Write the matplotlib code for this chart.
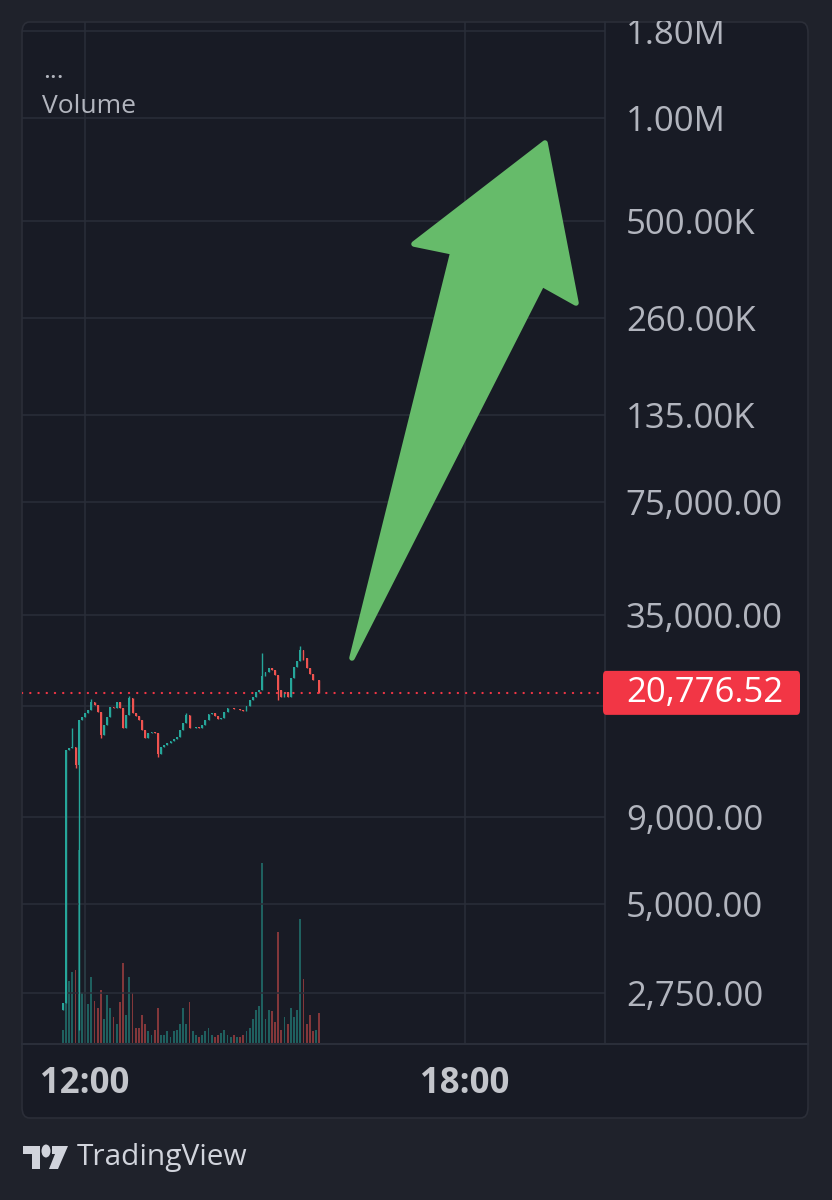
import numpy as np
import matplotlib
matplotlib.use('Agg')
from matplotlib import pyplot as plt
from matplotlib.patches import FancyBboxPatch, Polygon, Rectangle, Circle
from matplotlib.lines import Line2D
from matplotlib.ticker import FixedLocator, NullLocator, FuncFormatter

# 3 minute candles, the first one at 11:39
start_hour = 11 + 39 / 60
step_hour = 3 / 60

open_first = 2450
closes = [2570, 14140, 14330, 14430, 12780, 17300, 17660, 18140, 18510, 19540,
          19150, 18260, 15640, 16730, 17660, 18890, 18760, 19540, 18760, 16400,
          17890, 20080, 18140, 17770, 17300, 16180, 15330, 15850, 15960, 15850,
          13760, 14430, 14620, 14820, 15020, 15230, 15430, 16180, 16960, 17890,
          16400, 16400, 16510, 16400, 16730, 17300, 18020, 18140, 17770, 17420,
          17540, 18260, 18760, 18760, 18640, 18640, 18510, 18390, 19020, 19810,
          20210, 20900, 21190, 23280, 23920, 24570, 24240, 23440, 21190, 20210,
          20900, 20210, 22970, 24740, 25760, 27750, 26290, 24570, 23590, 22660,
          22660, 20776.52]
spike_highs = {3: 16400, 9: 19900, 21: 20400, 39: 18100, 63: 27190, 75: 28500}
spike_lows = {4: 12500, 5: 2140, 12: 15300, 30: 13490, 68: 19810, 76: 25900}

volumes = [8, 110, 35, 40, 41, 107, 28, 52, 22, 37,
           24, 20, 30, 14, 27, 20, 15, 11, 23, 45,
           16, 37, 28, 9, 9, 16, 11, 7, 5, 8,
           20, 5, 5, 7, 4, 7, 8, 11, 20, 11,
           23, 7, 5, 4, 5, 7, 9, 5, 4, 5,
           6, 8, 5, 4, 5, 4, 4, 5, 7, 9,
           14, 19, 21, 100, 14, 19, 18, 12, 62, 8,
           15, 11, 20, 15, 19, 69, 36, 11, 16, 7,
           8, 17]

price_ticks = [2750, 5000, 9000, 19000, 35000, 75000, 135000, 260000,
               500000, 1000000, 1800000]
hidden_tick = 19000  # sits under the last price tag
time_ticks = [12, 18]
time_labels = ['12:00', '18:00']

W, H = 832, 1200
BG_OUT = '#1f222b'
BG_IN = '#181b25'
GRID = '#2a2e39'
TXT = '#b2b5be'
UP = '#26a69a'
DOWN = '#ef5350'
LAST = '#f23645'
ARROW = '#66bb6a'
FONT = 'Open Sans'


def fx(x):
    return x / W


def fy(y):
    return 1 - y / H


def fmt_price(v, pos=None):
    if v == hidden_tick:
        return ''
    if v >= 1e6:
        return '{:.2f}M'.format(v / 1e6)
    if v >= 1e5:
        return '{:.2f}K'.format(v / 1e3)
    return '{:,.2f}'.format(v)


fig = plt.figure(figsize=(W / 100, H / 100), dpi=100, facecolor=BG_OUT)

frame = FancyBboxPatch((fx(22), fy(1118)), fx(808) - fx(22), fy(22) - fy(1118),
                       boxstyle='round,pad=0,rounding_size=0.009',
                       transform=fig.transFigure, facecolor=BG_IN,
                       edgecolor='#2b2e38', linewidth=1.2, zorder=-5)
fig.add_artist(frame)

rect = [fx(22), fy(1044), fx(605) - fx(22), fy(22) - fy(1044)]
ax = fig.add_axes(rect)
ax_vol = ax.twinx()
ax.set_zorder(2)
ax_vol.set_zorder(1)
ax.patch.set_visible(False)
ax_vol.patch.set_visible(False)

n = len(closes)
times = start_hour + step_hour * np.arange(n)
opens = [open_first] + closes[:-1]
highs = [max(o, c) for o, c in zip(opens, closes)]
lows = [min(o, c) for o, c in zip(opens, closes)]
for i, v in spike_highs.items():
    highs[i] = v
for i, v in spike_lows.items():
    lows[i] = v
colors = [UP if c >= o else DOWN for o, c in zip(opens, closes)]

# volume overlay
ax_vol.bar(times, volumes, width=0.028, color=colors, alpha=0.5, linewidth=0)
ax_vol.set_ylim(0, 565)
ax_vol.yaxis.set_visible(False)
for s in ax_vol.spines.values():
    s.set_visible(False)

# candles
ax.set_yscale('log')
ax.vlines(times, lows, highs, colors=colors, linewidth=1.0, zorder=3)
ax.bar(times, np.array(closes) - np.array(opens), bottom=opens, width=0.028,
       color=colors, linewidth=0, zorder=3)
ax.axhline(closes[-1], color=LAST, linewidth=1.6, linestyle=(0, (0.1, 3.6)),
           dash_capstyle='round', zorder=4)

ax.set_xlim(11.005, 20.211)
ax.set_ylim(1950, 1.909e6)
ax.yaxis.set_major_locator(FixedLocator(price_ticks))
ax.yaxis.set_minor_locator(NullLocator())
ax.yaxis.set_major_formatter(FuncFormatter(fmt_price))
ax.yaxis.tick_right()
ax.tick_params(axis='y', length=0, pad=15, labelsize=25, labelcolor=TXT)
ax.set_xticks(time_ticks, labels=time_labels)
ax.tick_params(axis='x', length=0, pad=16, labelsize=25, labelcolor='#c3c5cb')
for lab in ax.get_yticklabels():
    lab.set_fontfamily(FONT)
for lab in ax.get_xticklabels():
    lab.set_fontfamily(FONT)
    lab.set_fontweight('bold')
ax.grid(True, color=GRID, linewidth=1.1)
ax.set_axisbelow(True)
for name, s in ax.spines.items():
    s.set_visible(name == 'right')
ax.spines['right'].set_color(GRID)
ax.spines['right'].set_linewidth(1.2)

fig.add_artist(Line2D([fx(22), fx(808)], [fy(1044), fy(1044)],
                      transform=fig.transFigure, color=GRID, linewidth=1.5))

# hide the part of the top label that pokes out of the frame
fig.add_artist(Rectangle((0, fy(21)), 1, 1 - fy(21), transform=fig.transFigure,
                         facecolor=BG_OUT, edgecolor='none', zorder=20))

# last price tag
_, y_last = fig.transFigure.inverted().transform(
    ax.transData.transform((15, closes[-1])))
tag = FancyBboxPatch((fx(603), y_last - 22 / H), fx(800) - fx(603), 44 / H,
                     boxstyle='round,pad=0,rounding_size=0.004',
                     transform=fig.transFigure, facecolor=LAST,
                     edgecolor='none', zorder=10)
fig.add_artist(tag)
fig.text(fx(626), y_last, '{:,.2f}'.format(closes[-1]), color='white',
         fontsize=25, family=FONT, ha='left', va='center', zorder=11)

# legend of the pane
fig.text(fx(43), fy(78), '...', color=TXT, fontsize=19, family=FONT,
         ha='left', va='baseline')
fig.text(fx(42), fy(113), 'Volume', color=TXT, fontsize=19, family=FONT,
         ha='left', va='baseline')

# green arrow drawn over the chart
arrow_px = [(352, 658), (453, 252), (414, 244), (545, 143), (576, 303),
            (542, 284)]
arrow = Polygon([(fx(x), fy(y)) for x, y in arrow_px], closed=True,
                transform=fig.transFigure, facecolor=ARROW, edgecolor=ARROW,
                linewidth=4, joinstyle='round', zorder=15)
fig.add_artist(arrow)

# TradingView logo
LOGO = '#d1d4dc'
fig.add_artist(Polygon([(fx(x), fy(y)) for x, y in
                        [(23, 1146), (40, 1146), (40, 1169), (32, 1169),
                         (32, 1154), (23, 1154)]],
                       transform=fig.transFigure, facecolor=LOGO, edgecolor='none'))
fig.add_artist(Circle((fx(46), fy(1151)), 4.5 / W, transform=fig.transFigure,
                      facecolor=LOGO, edgecolor='none'))
fig.add_artist(Polygon([(fx(x), fy(y)) for x, y in
                        [(52, 1146), (68, 1146), (58, 1169), (49, 1169),
                         (55, 1154), (52, 1154)]],
                       transform=fig.transFigure, facecolor=LOGO, edgecolor='none'))
fig.text(fx(77), fy(1157), 'TradingView', color=LOGO, fontsize=21.5,
         family=FONT, ha='left', va='center')

fig.savefig('out.png', dpi=100, facecolor=BG_OUT)
